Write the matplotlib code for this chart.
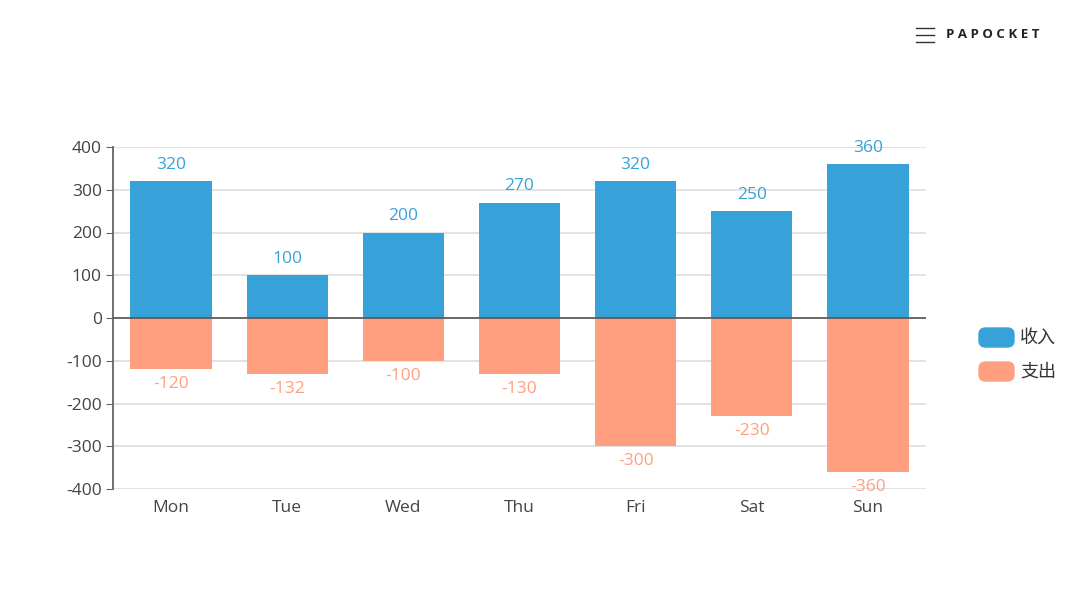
import numpy as np
import matplotlib.pyplot as plt
from matplotlib.patches import FancyBboxPatch
from matplotlib.lines import Line2D

plt.rcParams['font.family'] = ['Open Sans', 'Noto Sans CJK SC', 'DejaVu Sans']

days = ["Mon", "Tue", "Wed", "Thu", "Fri", "Sat", "Sun"]
income = [320, 100, 200, 270, 320, 250, 360]
expense = [-120, -132, -100, -130, -300, -230, -360]
series_names = ["收入", "支出"]
yticks = [-400, -300, -200, -100, 0, 100, 200, 300, 400]

BLUE = "#37A2DA"
SALMON = "#FF9F7F"

fig = plt.figure(figsize=(10.8, 6.08), dpi=100)
ax = fig.add_axes([113 / 1080, 1 - 489 / 608, (926 - 113) / 1080, (489 - 147) / 608])

x = np.arange(len(days))
ax.bar(x, income, width=0.7, color=BLUE, zorder=3)
ax.bar(x, expense, width=0.7, color=SALMON, zorder=3)

for xi, v in zip(x, income):
    ax.annotate(str(v), (xi, v), xytext=(0, 6), textcoords="offset points",
                ha="center", va="bottom", color=BLUE, fontsize=12.5)
for xi, v in zip(x, expense):
    ax.annotate(str(v), (xi, v), xytext=(0, -5), textcoords="offset points",
                ha="center", va="top", color=SALMON, fontsize=12.5)

ax.set_xlim(-0.5, len(days) - 0.5)
ax.set_ylim(-400, 400)
ax.set_yticks(yticks)
ax.set_yticklabels([str(t) for t in yticks])
ax.set_xticks(x)
ax.set_xticklabels(days)
ax.grid(axis="y", color="#dddddd", linewidth=1.2, zorder=0)
ax.axhline(0, color="#555555", linewidth=1.2, zorder=4)

for s in ["top", "right", "bottom"]:
    ax.spines[s].set_visible(False)
ax.spines["left"].set_color("#666666")
ax.spines["left"].set_linewidth(1.3)
ax.tick_params(axis="y", length=5, color="#666666", labelsize=12.5, labelcolor="#444444", pad=3)
ax.tick_params(axis="x", length=0, labelsize=12.5, labelcolor="#444444", pad=8)

# legend
for i, (name, col) in enumerate(zip(series_names, [BLUE, SALMON])):
    y0 = 1 - (347 + i * 34) / 608
    fig.patches.append(FancyBboxPatch((979 / 1080, y0), 35 / 1080, 19 / 608,
                                      boxstyle="round,pad=0,rounding_size=0.006",
                                      transform=fig.transFigure, color=col, mutation_aspect=1.8))
    fig.text(1020 / 1080, y0 + 9.5 / 608, name, fontsize=13, color="#333333",
             va="center", ha="left", family=['Noto Sans CJK SC', 'DejaVu Sans'])

# logo
for dy in [28, 35, 42]:
    fig.add_artist(Line2D([916 / 1080, 934 / 1080], [1 - dy / 608, 1 - dy / 608],
                          color="#333333", linewidth=1, transform=fig.transFigure))
fig.text(946 / 1080, 1 - 35 / 608, " ".join("PAPOCKET"), fontsize=9.5,
         color="#222222", va="center", ha="left", fontweight="bold")

fig.savefig("out.png", dpi=100)
